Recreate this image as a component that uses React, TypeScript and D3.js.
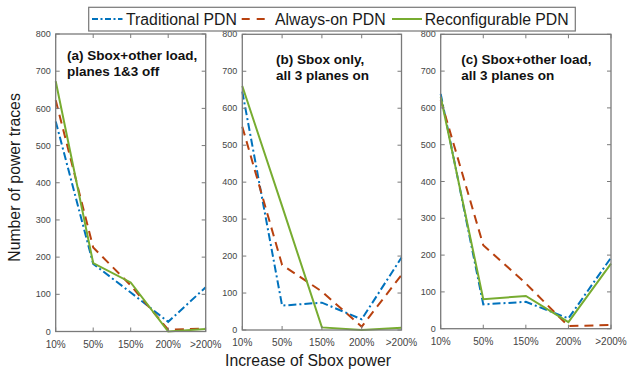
import React from "react";
import * as d3 from "d3";

const categories = ["10%", "50%", "150%", "200%", ">200%"];
const yTicks = [0, 100, 200, 300, 400, 500, 600, 700, 800];
const seriesNames = ["Traditional PDN", "Always-on PDN", "Reconfigurable PDN"];

// Panel (a) Sbox+other load, planes 1&3 off
const traditionalA = [565, 182, 105, 26, 119];
const alwaysOnA = [622, 226, 124, 5, 8];
const reconfigA = [673, 184, 132, 0, 7];
// Panel (b) Sbox only, all 3 planes on
const traditionalB = [645, 66, 74, 29, 196];
const alwaysOnB = [550, 176, 104, 9, 149];
const reconfigB = [660, 335, 7, 0, 6];
// Panel (c) Sbox+other load, all 3 planes on
const traditionalC = [638, 66, 73, 28, 193];
const alwaysOnC = [622, 227, 123, 7, 10];
const reconfigC = [630, 80, 89, 18, 177];

const panelTitles = [
  ["(a) Sbox+other load,", "planes 1&3 off"],
  ["(b) Sbox only,", "all 3 planes on"],
  ["(c) Sbox+other load,", "all 3 planes on"],
];
const panelData = [
  [traditionalA, alwaysOnA, reconfigA],
  [traditionalB, alwaysOnB, reconfigB],
  [traditionalC, alwaysOnC, reconfigC],
];

const layout = [
  { x0: 55.7, x1: 205.7, y0: 34, y1: 331.5, tx: 67, tb: 59.5 },
  { x0: 242.3, x1: 401.5, y0: 34.3, y1: 330, tx: 276, tb: 63.5 },
  { x0: 440.7, x1: 611, y0: 34.3, y1: 328.7, tx: 461.3, tb: 64 },
];

const colors = ["#0072BD", "#B8410F", "#77AC30"];
const dashes = ["8,3,2,3", "9,6", "none"];
const FONT = "'Liberation Sans', Arial, Helvetica, sans-serif";
const axisColor = "#7a7a7a";
const tickText = "#444";

function Panel({ idx }: { idx: number }) {
  const L = layout[idx];
  const x = d3.scalePoint<string>().domain(categories).range([L.x0, L.x1]);
  const y = d3.scaleLinear().domain([0, 800]).range([L.y1, L.y0]);
  const line = d3
    .line<number>()
    .x((_, i) => x(categories[i]) as number)
    .y((d) => y(d));
  const tl = 4;
  return (
    <g>
      {panelData[idx].map((s, si) => (
        <path
          key={si}
          d={line(s) || ""}
          fill="none"
          stroke={colors[si]}
          strokeWidth={2}
          strokeDasharray={dashes[si]}
          strokeLinejoin="miter"
        />
      ))}
      <rect
        x={L.x0}
        y={L.y0}
        width={L.x1 - L.x0}
        height={L.y1 - L.y0}
        fill="none"
        stroke={axisColor}
        strokeWidth={1.3}
      />
      {yTicks.map((t) => (
        <g key={t}>
          <line x1={L.x0} x2={L.x0 + tl} y1={y(t)} y2={y(t)} stroke={axisColor} strokeWidth={1} />
          <line x1={L.x1} x2={L.x1 - tl} y1={y(t)} y2={y(t)} stroke={axisColor} strokeWidth={1} />
          <text
            x={L.x0 - 5}
            y={y(t)}
            dy="0.35em"
            textAnchor="end"
            fontSize={9}
            fontFamily={FONT}
            fill={tickText}
          >
            {t}
          </text>
        </g>
      ))}
      {categories.map((c) => (
        <g key={c}>
          <line x1={x(c)} x2={x(c)} y1={L.y1} y2={L.y1 - tl} stroke={axisColor} strokeWidth={1} />
          <line x1={x(c)} x2={x(c)} y1={L.y0} y2={L.y0 + tl} stroke={axisColor} strokeWidth={1} />
          <text
            x={x(c)}
            y={L.y1 + 16}
            textAnchor="middle"
            fontSize={10}
            fontFamily={FONT}
            fill={tickText}
          >
            {c}
          </text>
        </g>
      ))}
      {panelTitles[idx].map((t, i) => (
        <text
          key={i}
          x={L.tx}
          y={L.tb + i * 16}
          fontSize={13.5}
          fontWeight="bold"
          fontFamily={FONT}
          fill="#111"
        >
          {t}
        </text>
      ))}
    </g>
  );
}

function Legend() {
  const items = [
    { lx0: 92, lx1: 122.5, tx: 126 },
    { lx0: 241.7, lx1: 268.5, tx: 275 },
    { lx0: 392, lx1: 422, tx: 424.7 },
  ];
  const cy = 19;
  return (
    <g>
      <rect x={88.7} y={7.3} width={575.3 - 88.7} height={31 - 7.3} fill="#fff" stroke="#777" strokeWidth={1.2} />
      {items.map((it, i) => (
        <g key={i}>
          <line
            x1={it.lx0}
            x2={it.lx1}
            y1={cy}
            y2={cy}
            stroke={colors[i]}
            strokeWidth={2}
            strokeDasharray={i === 0 ? "6,2.5,2,2.5" : i === 1 ? "8,7" : "none"}
          />
          <text x={it.tx} y={cy} dy="0.36em" fontSize={15.8} fontFamily={FONT} fill="#1a1a1a">
            {seriesNames[i]}
          </text>
        </g>
      ))}
    </g>
  );
}

export default function App() {
  return (
    <svg
      width={627}
      height={369}
      style={{ position: "absolute", left: 0, top: 0, background: "#fff" }}
    >
      <rect x={0} y={0} width={627} height={369} fill="#fff" />
      {[0, 1, 2].map((i) => (
        <Panel key={i} idx={i} />
      ))}
      <Legend />
      <text
        transform="translate(20,177.5) rotate(-90)"
        textAnchor="middle"
        fontSize={15.8}
        fontFamily={FONT}
        fill="#1a1a1a"
      >
        Number of power traces
      </text>
      <text x={308} y={366} textAnchor="middle" fontSize={15.8} fontFamily={FONT} fill="#1a1a1a">
        Increase of Sbox power
      </text>
    </svg>
  );
}
